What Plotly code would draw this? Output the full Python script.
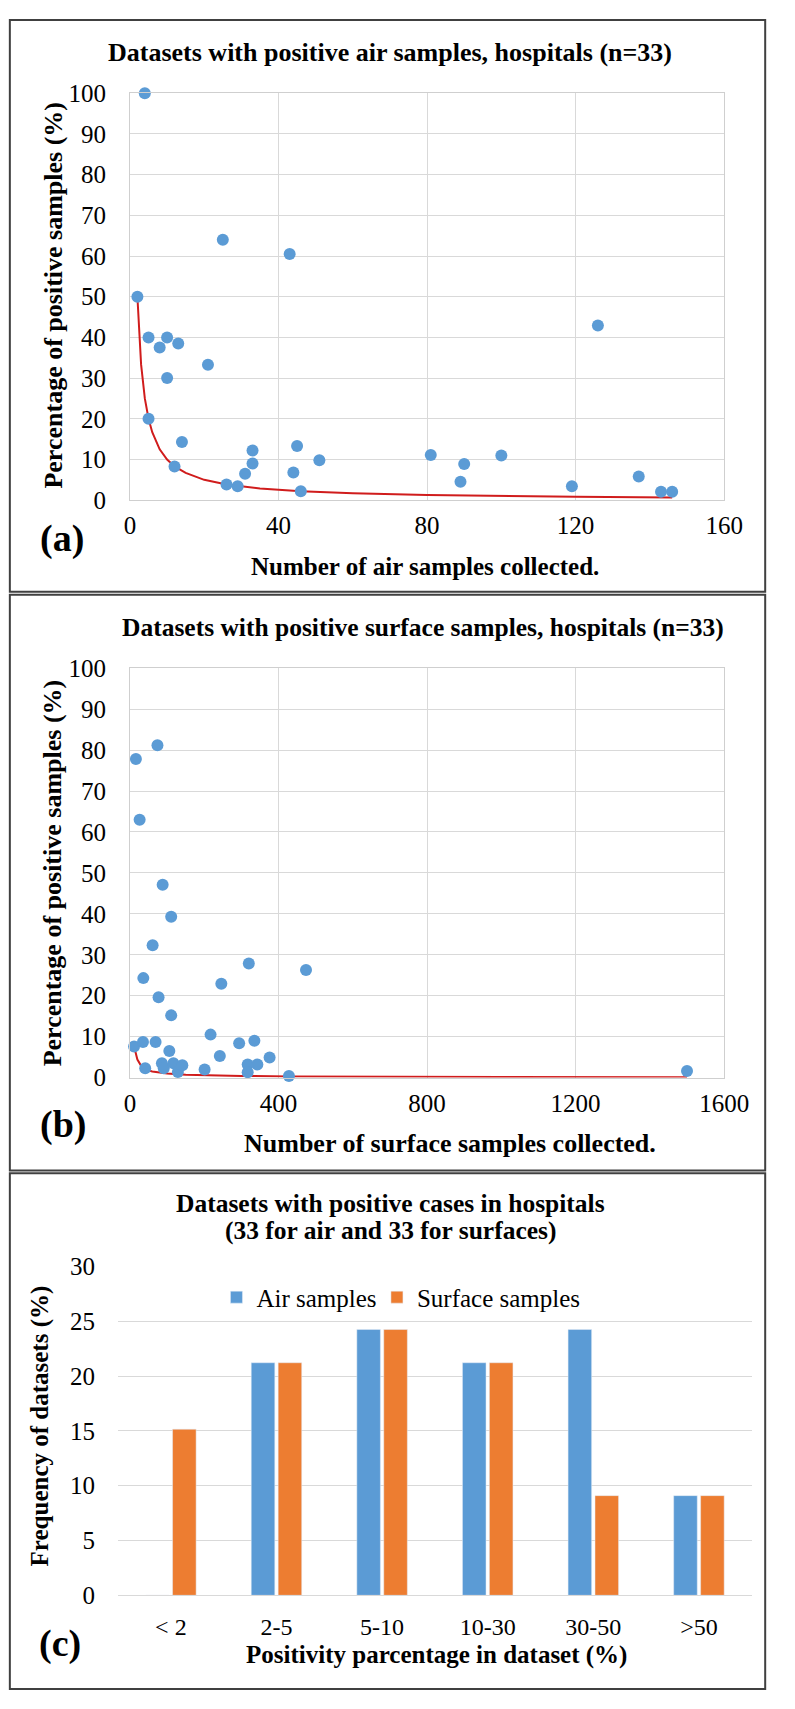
import plotly.graph_objects as go

W, H = 795, 1709

# ---------------- data: panel (a) air samples ----------------
air_n = [4, 2, 5, 10, 8, 13, 21, 10, 5, 14, 12, 25, 43, 26, 29, 31, 33, 33,
         44, 45, 46, 51, 81, 89, 90, 100, 119, 126, 137, 143, 146]
air_pct = [100, 50, 40, 40, 37.5, 38.5, 33.3, 30, 20, 14.3, 8.3, 64, 60.5, 3.85,
           3.4, 6.5, 12.2, 9.0, 6.8, 13.3, 2.2, 9.8, 11.1, 4.5, 8.9, 11.0, 3.4,
           42.9, 5.8, 2.1, 2.1]
air_trend_n = [2, 3, 4, 5, 6, 8, 10, 12, 15, 20, 26, 35, 46, 60, 80, 100, 120, 146]
air_trend_pct = [50, 33.3, 25, 20, 16.7, 12.5, 10, 8.3, 6.7, 5, 3.85, 2.9, 2.2,
                 1.7, 1.25, 1.0, 0.83, 0.68]

# ---------------- data: panel (b) surface samples ----------------
surf_n = [16, 74, 26, 88, 111, 61, 36, 77, 111, 11, 35, 69, 106, 41, 86, 91, 117,
          129, 141, 201, 217, 242, 246, 294, 320, 317, 317, 335, 343, 376, 428,
          474, 1500]
surf_pct = [77.8, 81.2, 63.0, 47.1, 39.3, 32.3, 24.3, 19.6, 15.2, 7.6, 8.7, 8.7,
            6.5, 2.3, 3.5, 2.3, 3.5, 1.4, 3.0, 2.0, 10.5, 5.3, 22.9, 8.4, 27.9,
            3.2, 1.3, 9.0, 3.2, 4.9, 0.4, 26.3, 1.6]
surf_trend_n = [11, 20, 30, 41, 60, 100, 150, 200, 300, 430, 700, 1000, 1500]
surf_trend_pct = [7.6, 4.4, 2.9, 2.0, 1.5, 1.0, 0.7, 0.55, 0.4, 0.3, 0.2, 0.15, 0.1]

# ---------------- data: panel (c) frequency bars ----------------
bins = ["< 2", "2-5", "5-10", "10-30", "30-50", ">50"]
air_freq = [0, 21.21, 24.24, 21.21, 24.24, 9.09]
surf_freq = [15.15, 21.21, 24.24, 21.21, 9.09, 9.09]

x_ticks_a = [0, 40, 80, 120, 160]
x_ticks_b = [0, 400, 800, 1200, 1600]
y_ticks_ab = list(range(0, 101, 10))
y_ticks_c = [0, 5, 10, 15, 20, 25, 30]

BLUE = "#5B9BD5"
ORANGE = "#ED7D31"
RED = "#D01C1C"
GRID = "#D9D9D9"
FONT = "Liberation Serif"


def px(x):
    return x / W


def py(y):
    return 1 - y / H


fig = go.Figure()

fig.add_trace(go.Scatter(x=air_trend_n, y=air_trend_pct, mode="lines",
                         line=dict(color=RED, width=2), xaxis="x", yaxis="y",
                         showlegend=False, hoverinfo="skip"))
fig.add_trace(go.Scatter(x=air_n, y=air_pct, mode="markers",
                         marker=dict(color=BLUE, size=12), xaxis="x", yaxis="y",
                         showlegend=False, cliponaxis=False))
fig.add_trace(go.Scatter(x=surf_trend_n, y=surf_trend_pct, mode="lines",
                         line=dict(color=RED, width=2), xaxis="x2", yaxis="y2",
                         showlegend=False, hoverinfo="skip"))
fig.add_trace(go.Scatter(x=surf_n, y=surf_pct, mode="markers",
                         marker=dict(color=BLUE, size=12), xaxis="x2", yaxis="y2",
                         showlegend=False, cliponaxis=False))
fig.add_trace(go.Bar(x=bins, y=air_freq, name="Air samples", marker_color=BLUE,
                     xaxis="x3", yaxis="y3", legend="legend"))
fig.add_trace(go.Bar(x=bins, y=surf_freq, name="Surface samples",
                     marker_color=ORANGE, xaxis="x3", yaxis="y3",
                     legend="legend2"))

tickfont = dict(family=FONT, size=25, color="black")
tickfont_c = dict(family=FONT, size=24, color="black")

common_x = dict(showgrid=True, gridcolor=GRID, gridwidth=1, zeroline=False,
                showline=True, linecolor="#CFCFCF", linewidth=1, mirror=True,
                ticks="", tickfont=tickfont, ticklabelstandoff=3, fixedrange=True)
common_y = dict(showgrid=True, gridcolor=GRID, gridwidth=1, zeroline=False,
                showline=True, linecolor="#CFCFCF", linewidth=1, mirror=True,
                ticks="", tickfont=tickfont, ticklabelstandoff=18, fixedrange=True)

legend_common = dict(orientation="h", xanchor="left", yanchor="middle",
                     font=dict(family=FONT, size=25, color="black"),
                     bgcolor="rgba(0,0,0,0)", itemclick=False,
                     itemdoubleclick=False)

fig.update_layout(
    width=W, height=H,
    margin=dict(l=0, r=0, t=0, b=0),
    paper_bgcolor="white", plot_bgcolor="white",
    font=dict(family=FONT, color="black"),
    barmode="group", bargap=0.49, bargroupgap=0.125,
    xaxis=dict(domain=[px(129), px(747.3)], anchor="y", range=[0, 160],
               tickvals=x_ticks_a, **common_x),
    yaxis=dict(domain=[py(495), py(81.5)], anchor="x", range=[0, 100],
               tickvals=y_ticks_ab, **common_y),
    xaxis2=dict(domain=[px(129), px(747.3)], anchor="y2", range=[0, 1600],
                tickvals=x_ticks_b, **common_x),
    yaxis2=dict(domain=[py(1081.7), py(665.7)], anchor="x2", range=[0, 100],
                tickvals=y_ticks_ab, **common_y),
    xaxis3=dict(domain=[px(116.6), px(776)], anchor="y3", type="category",
                showgrid=False, zeroline=False, showline=True, linecolor=GRID,
                linewidth=1, ticks="", tickfont=tickfont_c, ticklabelstandoff=10,
                fixedrange=True),
    yaxis3=dict(domain=[py(1607.7), py(1273.5)], anchor="x3", range=[0, 30],
                tickvals=y_ticks_c, showgrid=True, gridcolor=GRID, zeroline=False,
                showline=False, ticks="", tickfont=tickfont,
                ticklabelstandoff=22, fixedrange=True),
    legend=dict(x=px(219), y=py(1305), **legend_common),
    legend2=dict(x=px(386), y=py(1305), **legend_common),
)

# panel borders
for y0, y1 in [(7, 588), (591, 1176), (1179, 1703)]:
    fig.add_shape(type="rect", xref="paper", yref="paper",
                  x0=px(4), x1=px(790), y0=py(y1), y1=py(y0),
                  line=dict(color="#404040", width=2), fillcolor="rgba(0,0,0,0)",
                  layer="above")


def note(text, x, y, size, bold=True, angle=0):
    fig.add_annotation(text=f"<b>{text}</b>" if bold else text,
                       x=px(x), y=py(y), xref="paper", yref="paper",
                       xanchor="center", yanchor="middle", showarrow=False,
                       textangle=angle,
                       font=dict(family=FONT, size=size, color="black"))


# panel (a)
note("Datasets with positive air samples, hospitals (n=33)", 400, 40, 26)
note("Percentage of positive samples (%)", 49, 287, 26, angle=-90)
note("Number of air samples collected.", 436, 562, 25)
note("(a)", 58.5, 534, 38)

# panel (b)
note("Datasets with positive surface samples, hospitals (n=33)", 434, 624, 25.5)
note("Percentage of positive samples (%)", 48, 874, 26, angle=-90)
note("Number of surface samples collected.", 462, 1149, 26)
note("(b)", 59, 1129, 38)

# panel (c)
note("Datasets with positive cases in hospitals", 400, 1210, 25.5)
note("(33 for air and 33 for surfaces)", 400, 1237, 25.5)
note("Frequency of datasets (%)", 35.5, 1436, 25, angle=-90)
note("Positivity parcentage in dataset (%)", 448, 1668, 25)
note("(c)", 56, 1657, 38)

fig.write_html("out.html", config={"displayModeBar": False},
               post_script="document.body.style.margin='0';")
